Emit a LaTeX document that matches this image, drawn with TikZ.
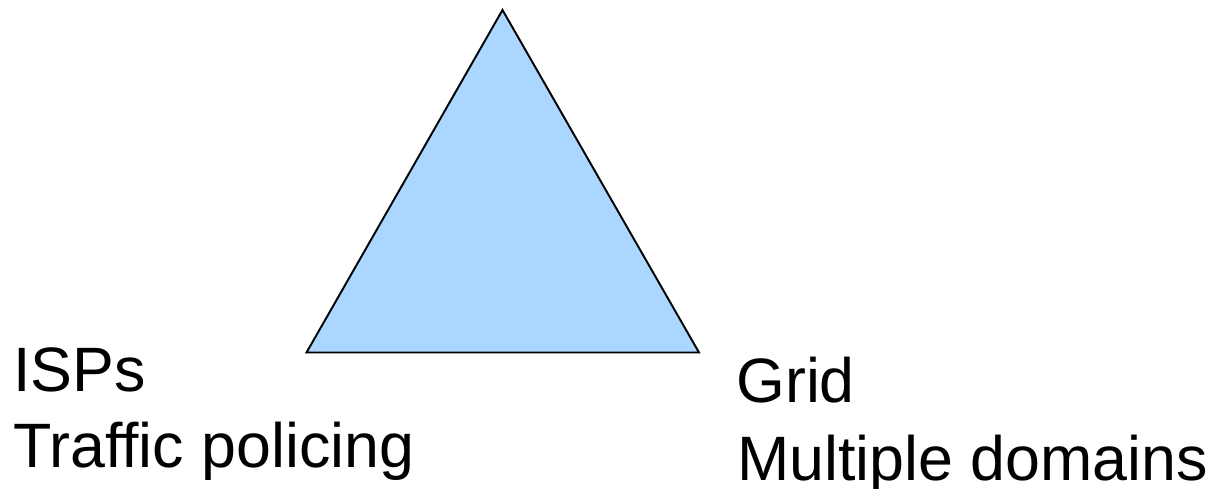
\documentclass[tikz,border=0pt]{standalone}
\usepackage{fontspec}
\setmainfont{Liberation Sans}
\usetikzlibrary{positioning}
\definecolor{trifill}{RGB}{170, 214, 255}

\begin{document}
\begin{tikzpicture}[x=0.02cm, y=-0.02cm,
    lbl/.style={anchor=base west, inner sep=0pt, font=\fontsize{35.7}{43}\selectfont}]
    \useasboundingbox (0,0) rectangle (1214,489);
    \coordinate (top) at (502.5,10);
    \coordinate (left) at (306.5,352.5);
    \coordinate (right) at (699,352.5);
    \draw[fill=trifill, line width=1.1pt, line join=miter] (top) -- (left) -- (right) -- cycle;
    \node[lbl] (isps) at (13,392) {ISPs};
    \node[lbl] (traffic) at (13,468) {Traffic policing};
    \node[lbl] (grid) at (736,403) {Grid};
    \node[lbl] (domains) at (737,480) {Multiple domains};
\end{tikzpicture}
\end{document}
